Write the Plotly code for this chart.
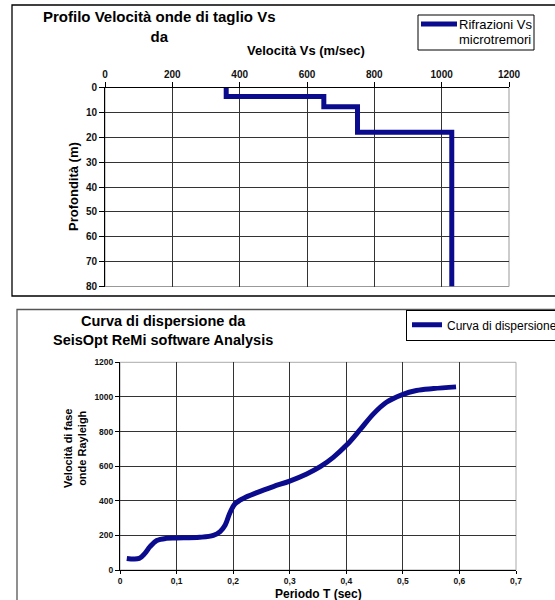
import plotly.graph_objects as go

# --- Vs profile (layered model) ---
layer_vs = [360, 650, 750, 1030]          # m/sec
layer_top = [0, 3.6, 7.7, 18]             # m
max_depth = 80

# --- Dispersion curve ---
periodo = [0.012, 0.034, 0.044, 0.053, 0.065, 0.082, 0.100, 0.141, 0.165, 0.177,
           0.186, 0.194, 0.203, 0.218, 0.242, 0.271, 0.300, 0.330, 0.354, 0.377,
           0.401, 0.424, 0.448, 0.471, 0.498, 0.524, 0.554, 0.594]
velocita_fase = [67, 67, 96, 135, 170, 183, 185, 189, 200, 222,
                 260, 328, 381, 414, 447, 482, 514, 555, 597, 651,
                 723, 809, 902, 969, 1012, 1037, 1048, 1058]

vs_ticks = [0, 200, 400, 600, 800, 1000, 1200]
depth_ticks = [0, 10, 20, 30, 40, 50, 60, 70, 80]
t_ticks = [0, 0.1, 0.2, 0.3, 0.4, 0.5, 0.6, 0.7]
t_labels = ["0", "0,1", "0,2", "0,3", "0,4", "0,5", "0,6", "0,7"]
v_ticks = [0, 200, 400, 600, 800, 1000, 1200]

profile_name = ["Rifrazioni Vs", "microtremori"]
curve_name = "Curva di dispersione"

W, H = 555, 600
FONT = "Arial, 'Liberation Sans', sans-serif"
BLUE = "#0b0b8e"


def px(x):
    return x / W


def py(y):
    return 1 - y / H


# step path: value holds down to the next layer top
step_x = layer_vs + [layer_vs[-1]]
step_y = layer_top + [max_depth]

fig = go.Figure()
fig.add_trace(go.Scatter(
    x=step_x, y=step_y, mode="lines", line=dict(color=BLUE, width=5, shape="vh"),
    name=" ".join(profile_name), xaxis="x", yaxis="y", showlegend=False,
))
fig.add_trace(go.Scatter(
    x=periodo, y=velocita_fase, mode="lines",
    line=dict(color=BLUE, width=5, shape="spline", smoothing=1.0),
    name=curve_name, xaxis="x2", yaxis="y2", legend="legend2", showlegend=True,
))

grid = "#333333"
tickfont_top = dict(family=FONT, size=10, color="#111", weight="bold")
tickfont_bot = dict(family=FONT, size=8.5, color="#111", weight="bold")

fig.update_layout(
    width=W, height=H,
    margin=dict(l=0, r=0, t=0, b=0, autoexpand=False),
    paper_bgcolor="white", plot_bgcolor="white",
    font=dict(family=FONT, color="black"),
    xaxis=dict(
        domain=[px(105), px(509)], anchor="y", side="top",
        range=[0, 1200], tickvals=vs_ticks, showgrid=True, gridcolor=grid, gridwidth=1,
        showline=True, linecolor="black", linewidth=1, ticks="outside", ticklen=5,
        tickcolor="black", tickfont=tickfont_top, zeroline=False,
    ),
    yaxis=dict(
        domain=[py(286.5), py(87.5)], anchor="x",
        range=[max_depth, 0], tickvals=depth_ticks, showgrid=True, gridcolor=grid,
        showline=True, linecolor="black", linewidth=1, ticks="outside", ticklen=5,
        tickcolor="black", tickfont=tickfont_top, zeroline=False,
    ),
    xaxis2=dict(
        domain=[px(120), px(516)], anchor="y2",
        range=[0, 0.7], tickvals=t_ticks, ticktext=t_labels, showgrid=True,
        gridcolor=grid, showline=True, linecolor="black", linewidth=1,
        ticks="outside", ticklen=3, tickcolor="black", tickfont=tickfont_bot,
        zeroline=False,
    ),
    yaxis2=dict(
        domain=[py(570), py(362.3)], anchor="x2",
        range=[0, 1200], tickvals=v_ticks, showgrid=True, gridcolor=grid,
        showline=True, linecolor="black", linewidth=1, ticks="outside", ticklen=4,
        tickcolor="black", tickfont=tickfont_bot, zeroline=False,
    ),
    legend2=dict(
        x=px(406), y=py(309.5), xanchor="left", yanchor="top", orientation="h",
        entrywidth=125, entrywidthmode="pixels",
        bordercolor="black", borderwidth=1, bgcolor="white",
        font=dict(family=FONT, size=12), valign="top",
    ),
)

shapes = [
    # panel frames
    dict(type="rect", xref="paper", yref="paper", x0=px(12), x1=px(600),
         y0=py(296), y1=py(5), line=dict(color="black", width=1.3), layer="below"),
    dict(type="rect", xref="paper", yref="paper", x0=px(17), x1=px(600),
         y0=py(640), y1=py(309.5), line=dict(color="#555", width=1.3), layer="below"),
    # light far-side plot borders
    dict(type="rect", xref="x domain", yref="y domain", x0=0, x1=1, y0=0, y1=1,
         line=dict(color="#999", width=1), layer="below"),
    dict(type="rect", xref="x2 domain", yref="y2 domain", x0=0, x1=1, y0=0, y1=1,
         line=dict(color="#aaa", width=1), layer="below"),
    # key box for the Vs profile
    dict(type="rect", xref="paper", yref="paper", x0=px(418), x1=px(534),
         y0=py(50), y1=py(15), line=dict(color="black", width=1), fillcolor="white"),
    dict(type="line", xref="paper", yref="paper", x0=px(421), x1=px(457),
         y0=py(24), y1=py(24), line=dict(color=BLUE, width=5)),
]
fig.update_layout(shapes=shapes)

annotations = [
    dict(text="Profilo Velocità onde di taglio Vs<br>da", x=px(159), y=py(26),
         font=dict(family=FONT, size=15, color="black", weight="bold")),
    dict(text="Velocità Vs (m/sec)", x=px(306), y=py(50),
         font=dict(family=FONT, size=13, color="black", weight="bold")),
    dict(text="Profondità (m)", x=px(73), y=py(187), textangle=-90,
         font=dict(family=FONT, size=13, color="black", weight="bold")),
    dict(text="Curva di dispersione da<br>SeisOpt ReMi software Analysis",
         x=px(163), y=py(330),
         font=dict(family=FONT, size=14.5, color="black", weight="bold")),
    dict(text="Periodo T (sec)", x=px(318), y=py(594),
         font=dict(family=FONT, size=12, color="black", weight="bold")),
    dict(text="Velocità di fase<br>onde Rayleigh", x=px(75), y=py(449), textangle=-90,
         font=dict(family=FONT, size=11, color="black", weight="bold")),
    dict(text=profile_name[0], x=px(457), y=py(25), xanchor="left",
         font=dict(family=FONT, size=13, color="black")),
    dict(text=profile_name[1], x=px(457), y=py(40), xanchor="left",
         font=dict(family=FONT, size=13, color="black")),
]
for a in annotations:
    a.setdefault("xanchor", "center")
    a.update(xref="paper", yref="paper", showarrow=False, yanchor="middle")
fig.update_layout(annotations=annotations)

fig.write_html("out.html")
